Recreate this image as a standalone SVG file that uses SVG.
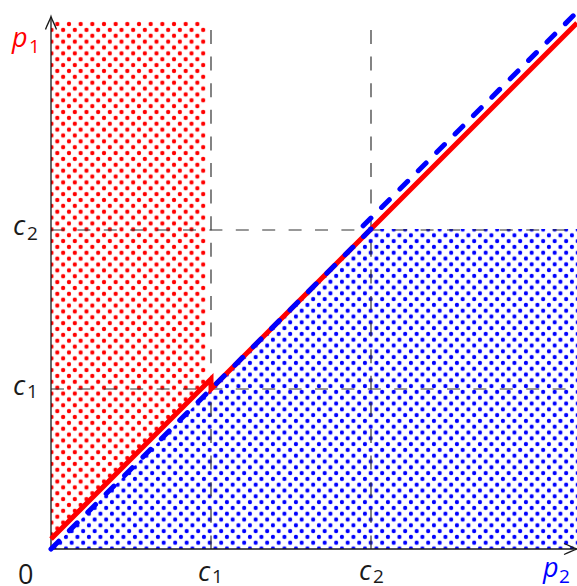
<svg xmlns="http://www.w3.org/2000/svg" width="577" height="586" viewBox="0 0 577 586">
<style>
.grid{fill:none;stroke:#333333;stroke-width:1.2}
.gh{stroke-dasharray:13 13.4}
.gv{stroke-dasharray:14 12.6}
.axis{fill:none;stroke:#1a1a1a;stroke-width:1.3}
.lbl{font-family:"Open Sans","DejaVu Sans",sans-serif;font-size:27px;fill:#1a1a1a}
.it{font-style:italic}
.sub{font-size:19px}
</style>
<defs>
<pattern id="redDots" patternUnits="userSpaceOnUse" x="54.4" y="21.1" width="11.67" height="11.73">
<circle cx="2.92" cy="2.93" r="2.15" fill="#ff0000"/>
<circle cx="8.755" cy="8.795" r="2.15" fill="#ff0000"/>
</pattern>
<pattern id="blueDots" patternUnits="userSpaceOnUse" x="183.8" y="539.8" width="11.5" height="11.6">
<circle cx="2.875" cy="2.9" r="2.1" fill="#0000ff"/>
<circle cx="8.625" cy="8.7" r="2.1" fill="#0000ff"/>
</pattern>
</defs>
<rect width="577" height="586" fill="#ffffff"/>
<g id="regions">
<polygon id="red-region" points="51,21 206,21 206,384 51,539" fill="url(#redDots)"/>
<polygon id="blue-region" points="51,549 371,229 577,229 577,549" fill="url(#blueDots)"/>
</g>
<g id="grid">
<line class="grid gh" x1="51" y1="230" x2="577" y2="230"/>
<line class="grid gh" x1="51" y1="389" x2="577" y2="389"/>
<line class="grid gv" x1="211" y1="30" x2="211" y2="549"/>
<line class="grid gv" x1="371" y1="30" x2="371" y2="549"/>
</g>
<g id="axes">
<line class="axis" x1="51" y1="549" x2="51" y2="17"/>
<line class="axis" x1="51" y1="549" x2="576" y2="549"/>
<path class="axis" d="M45.5,29.5 C47.5,24 50,20 51,16.5 C52,20 54.5,24 56.5,29.5"/>
<path class="axis" d="M564,543.5 C569.5,545.5 573.5,548 577,549 C573.5,550 569.5,552.5 564,554.5"/>
</g>
<g id="connectors">
<path id="red-curve" d="M51,539 L211,379 L211,389 L577,23" fill="none" stroke="#ff0000" stroke-width="5"/>
<path id="blue-curve" d="M51,549 L371,229 L360,229 L577,12" fill="none" stroke="#0000ff" stroke-width="5" stroke-dasharray="11 15" stroke-linecap="round" stroke-linejoin="round"/>
</g>
<g id="labels">
<text class="lbl" style="fill:#ff0000"><tspan class="it" x="12" y="47">p</tspan><tspan class="sub" x="29" y="53">1</tspan></text>
<text class="lbl"><tspan class="it" x="13" y="235">c</tspan><tspan class="sub" x="27" y="240">2</tspan></text>
<text class="lbl"><tspan class="it" x="13" y="395">c</tspan><tspan class="sub" x="27" y="398">1</tspan></text>
<text class="lbl" x="18" y="584">0</text>
<text class="lbl"><tspan class="it" x="198" y="581">c</tspan><tspan class="sub" x="212" y="583">1</tspan></text>
<text class="lbl"><tspan class="it" x="359" y="580">c</tspan><tspan class="sub" x="373" y="583">2</tspan></text>
<text class="lbl" style="fill:#0000ff"><tspan class="it" x="543" y="577">p</tspan><tspan class="sub" x="559" y="583">2</tspan></text>
</g>
</svg>
